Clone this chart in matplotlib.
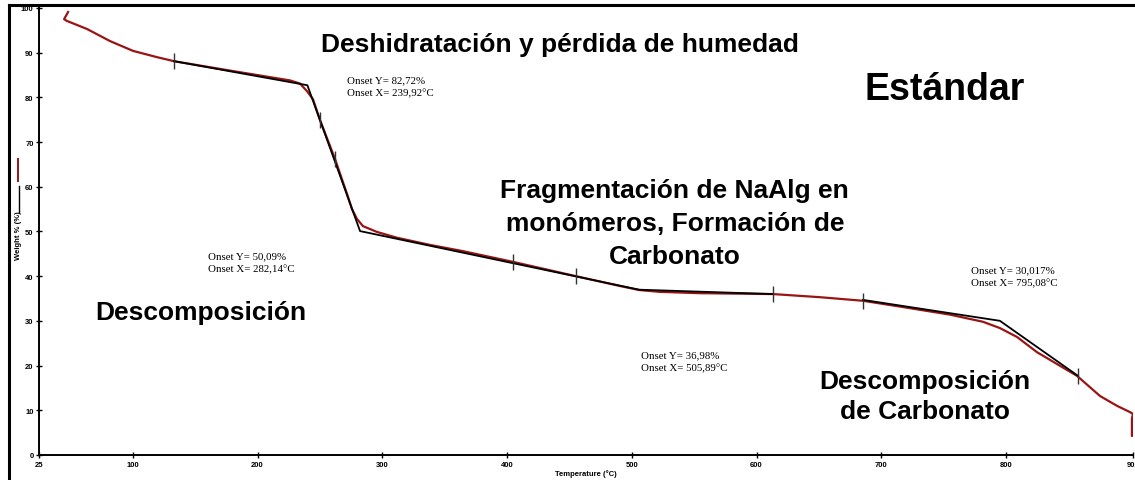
import matplotlib.pyplot as plt
from matplotlib.lines import Line2D

# TGA curve (red)
temp = [48.1, 44.9, 47.2, 63.3, 81.7, 100.2, 119.4, 133.0, 180.0, 226.0, 234.0,
        239.6, 244.4, 250.1, 262.1, 271.7, 275.7, 279.7, 284.5, 295.7, 311.8,
        338.2, 364.7, 404.8, 455.3, 490.5, 506.0, 522.0, 554.1, 613.2, 650.9,
        685.3, 715.0, 755.0, 781.5, 795.0, 808.8, 824.8, 856.9, 875.3, 888.9,
        899.3, 901.7, 900.9, 900.9]
weight = [99.1, 97.5, 97.1, 95.3, 92.6, 90.4, 89.0, 88.1, 85.9, 83.8, 83.1,
          81.4, 79.6, 74.9, 66.2, 58.4, 55.0, 52.8, 51.2, 49.9, 48.6,
          47.0, 45.6, 43.2, 40.0, 37.8, 36.9, 36.5, 36.2, 36.0, 35.3,
          34.5, 33.2, 31.4, 29.8, 28.4, 26.4, 23.0, 17.7, 13.2, 11.0,
          9.6, 9.2, 8.1, 4.3]

# onset tangent construction (black)
tan_x = [133.0, 239.92, 282.14, 505.89, 613.2]
tan_y = [88.1, 82.72, 50.09, 36.98, 36.0]
tan2_x = [685.3, 795.08, 857.7]
tan2_y = [34.7, 30.017, 17.7]

# small vertical marks on the curve
mark_x = [133.0, 250.1, 262.1, 404.8, 455.3, 613.2, 685.3, 857.7]
mark_y = [88.1, 74.9, 66.2, 43.2, 40.0, 36.0, 34.5, 17.7]

xticks = [25, 100, 200, 300, 400, 500, 600, 700, 800, 902]
yticks = [0, 10, 20, 30, 40, 50, 60, 70, 80, 90, 100]

onsets = [(271.6, 85.0, "Onset Y= 82,72%\nOnset X= 239,92°C"),
          (160.3, 45.6, "Onset Y= 50,09%\nOnset X= 282,14°C"),
          (507.2, 23.4, "Onset Y= 36,98%\nOnset X= 505,89°C"),
          (771.9, 42.4, "Onset Y= 30,017%\nOnset X= 795,08°C")]

plt.rcParams['font.family'] = ['Liberation Sans', 'DejaVu Sans']

fig = plt.figure(figsize=(11.35, 4.81), dpi=100)
ax = fig.add_axes([0.0346, 0.052, 0.9639, 0.9293])

red = '#9a1414'
ax.plot(temp, weight, color=red, lw=1.6, zorder=2)
ax.plot(tan_x, tan_y, color='black', lw=1.3, zorder=3)
ax.plot(tan2_x, tan2_y, color='black', lw=1.3, zorder=3)
ax.plot(mark_x, mark_y, ls='none', marker='|', color='#333333', ms=12, mew=1.0, zorder=4)

ax.set_xlim(25, 902)
ax.set_ylim(0, 100)
ax.set_xticks(xticks)
ax.set_yticks(yticks)
ax.tick_params(direction='inout', length=4, width=1, labelsize=5.5, pad=2)
for lab in ax.get_xticklabels() + ax.get_yticklabels():
    lab.set_fontweight('bold')
for s in ['top', 'right']:
    ax.spines[s].set_visible(False)
for s in ['left', 'bottom']:
    ax.spines[s].set_linewidth(1.4)

ax.set_xlabel('Temperature (°C)', fontsize=5.5, fontweight='bold', labelpad=1)

# y label with the two line samples, like the instrument software
fig.text(0.0167, 0.511, 'Weight % (%)', rotation=90, fontsize=5.5, fontweight='bold',
         ha='center', va='center')
fig.add_artist(Line2D([0.0159, 0.0159], [1 - 160 / 481, 1 - 182 / 481], color=red, lw=1.4))
fig.add_artist(Line2D([0.0167, 0.0167], [1 - 187 / 481, 1 - 213 / 481], color='black', lw=1.0))

# outer frame
fig.add_artist(Line2D([0.0075, 0.0075], [0, 0.988], color='black', lw=2.2))
fig.add_artist(Line2D([0.0075, 1.0], [0.988, 0.988], color='black', lw=2.2))

big = dict(fontweight='bold', ha='center', va='center', color='black')
ax.text(442.4, 91.9, 'Deshidratación y pérdida de humedad', fontsize=19, **big)
ax.text(751.1, 81.9, 'Estándar', fontsize=27, **big)
ax.text(534.5, 51.9, 'Fragmentación de NaAlg en\nmonómeros, Formación de\nCarbonato',
        fontsize=19, linespacing=1.45, **big)
ax.text(154.8, 32.0, 'Descomposición', fontsize=19, **big)
ax.text(735.1, 13.2, 'Descomposición\nde Carbonato', fontsize=19, linespacing=1.35, **big)

for x, y, t in onsets:
    ax.text(x, y, t, fontsize=7.8, family='Liberation Serif', ha='left', va='top',
            linespacing=1.45)

fig.savefig('out.png', dpi=100)
